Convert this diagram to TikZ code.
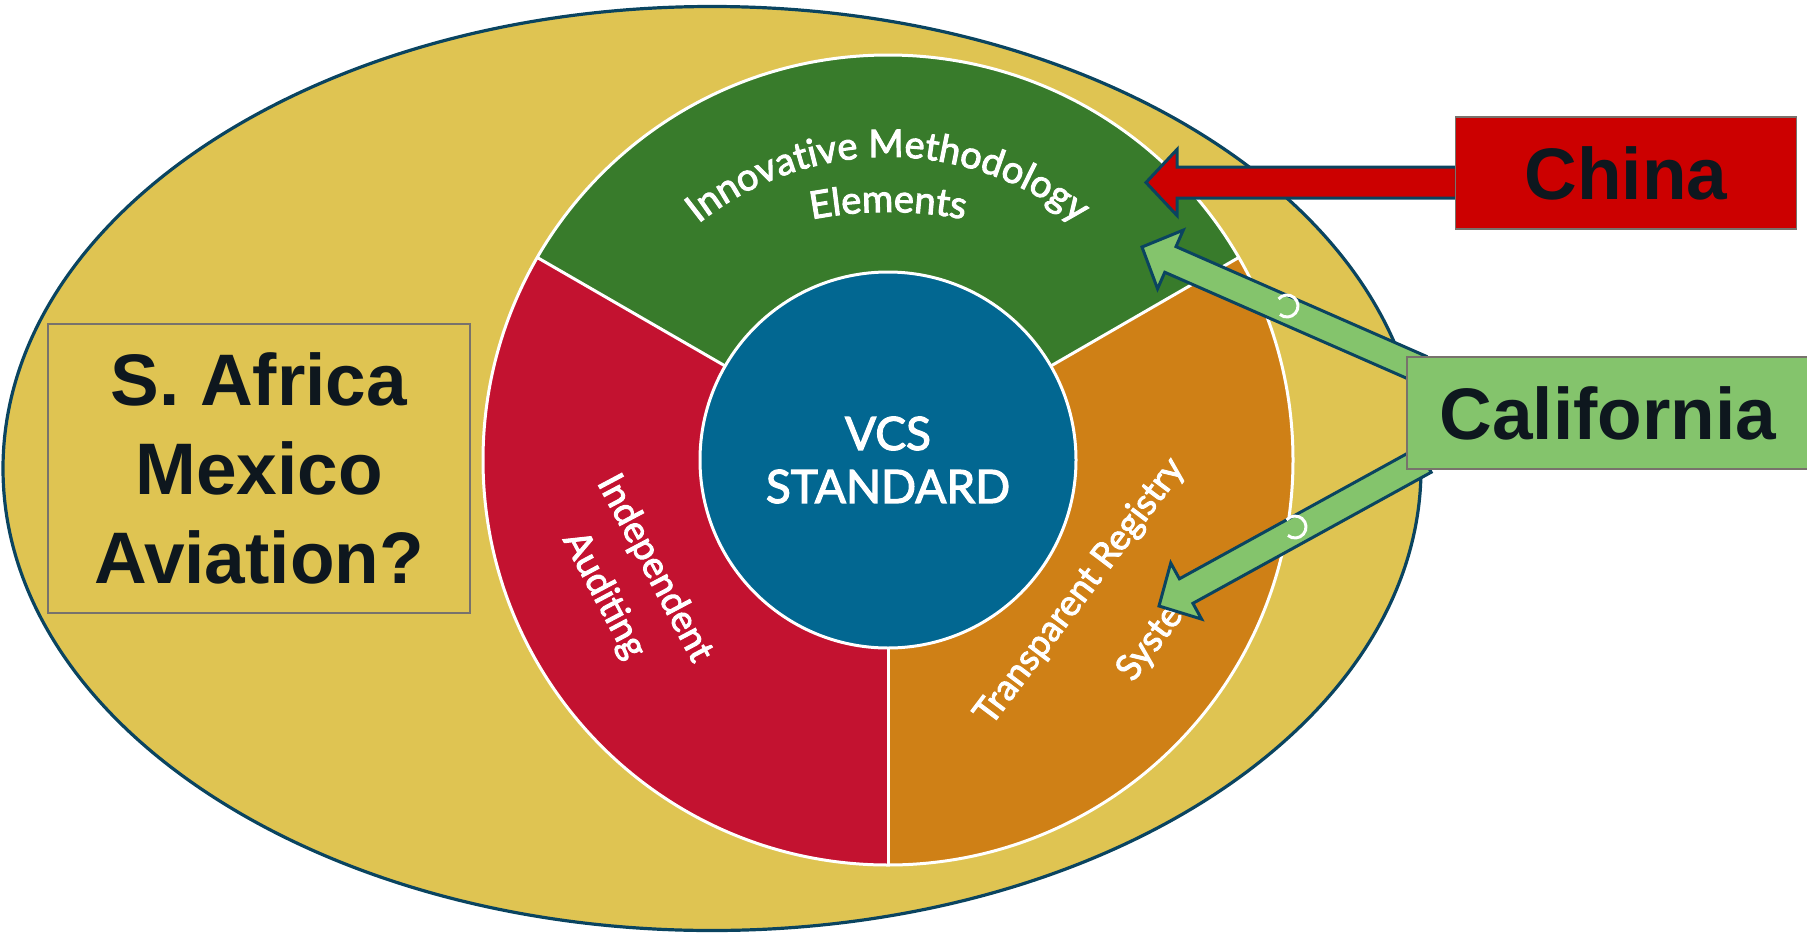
\documentclass[tikz,border=0pt]{standalone}
\usepackage{fontspec}
\setmainfont{Liberation Sans}
\newfontfamily\wheelfont[FakeBold=2.6]{Lato}
\usepackage{tikz}
\usetikzlibrary{calc,positioning,decorations.text}

\definecolor{ringgold}{RGB}{223,196,82}
\definecolor{rimblue}{RGB}{10,68,96}
\definecolor{vcsgreen}{RGB}{56,123,43}
\definecolor{vcsred}{RGB}{195,18,48}
\definecolor{vcsorange}{RGB}{207,128,22}
\definecolor{vcsblue}{RGB}{2,103,145}
\definecolor{chinared}{RGB}{204,0,0}
\definecolor{calgreen}{RGB}{132,196,108}
\definecolor{boxgray}{RGB}{120,114,108}
\definecolor{inkdark}{RGB}{14,23,30}

\pgfdeclarelayer{front}
\pgfsetlayers{main,front}

\tikzset{
  labelbox/.style={draw=boxgray, line width=1.2pt, text=inkdark, inner sep=0pt,
    font=\fontsize{73}{89}\selectfont\bfseries, align=center},
  blockline/.style={draw=rimblue, line width=3pt, line join=miter},
  wheeltext/.style={text=white, font=\fontsize{37}{57}\selectfont\wheelfont, align=center},
  whitecut/.style={white, line width=3pt}
}

\newcommand{\blockarrow}[5]{%
  \coordinate (neck) at ($(#2)!31pt!(#1)$);
  \draw[blockline, fill=#3] ($(#1)!#4!90:(#2)$) -- ($(neck)!#4!90:(#2)$)
    -- ($(neck)!#5!90:(#2)$) -- (#2) -- ($(neck)!#5!-90:(#2)$)
    -- ($(neck)!#4!-90:(#2)$) -- ($(#1)!#4!-90:(#2)$) -- cycle;
}

\begin{document}
\begin{tikzpicture}[x=1pt,y=1pt]
    \useasboundingbox (0,0) rectangle (1807,-937);
    \draw[draw=rimblue, line width=3.2pt, fill=ringgold] (712,-468.5) ellipse [x radius=709pt, y radius=462pt];
    \node[labelbox, minimum width=422pt, minimum height=289pt] (others) at (259,-468.5) {S. Africa\\Mexico\\Aviation?};

    \coordinate (c) at (888,-460);
    \fill[vcsgreen] (c) -- ++(30:405pt) arc[start angle=30, end angle=150, radius=405pt] -- cycle;
    \fill[vcsred] (c) -- ++(150:405pt) arc[start angle=150, end angle=270, radius=405pt] -- cycle;
    \fill[vcsorange] (c) -- ++(270:405pt) arc[start angle=270, end angle=390, radius=405pt] -- cycle;
    \draw[whitecut] (c) circle[radius=405pt];
    \foreach \a in {30,150,270}
        \draw[whitecut] (c) -- ++(\a:405pt);
    \node[circle, fill=vcsblue, draw=white, line width=3pt, minimum size=376pt, inner sep=0pt,
        text=white, font=\fontsize{46}{53}\selectfont\wheelfont, align=center] (vcs) at (c) {VCS\\STANDARD};

    \path[decorate, decoration={text along path, text align=center, text color=white,
        text={|\wheelfont\fontsize{38}{44}\selectfont|Innovative Methodology}}]
        ($(c)+(140:303pt)$) arc[start angle=140, end angle=40, radius=303pt];
    \path[decorate, decoration={text along path, text align=center, text color=white,
        text={|\wheelfont\fontsize{38}{44}\selectfont|Elements}}]
        ($(888,-612)+(120:400pt)$) arc[start angle=120, end angle=60, radius=400pt];
    \node[wheeltext, rotate=-62] (audit) at (629,-582) {Independent\\Auditing};
    \node[wheeltext, font=\fontsize{36}{57}\selectfont\wheelfont, rotate=53] (registry) at (1115,-618)
        {Transparent Registry\\[30pt]\hspace*{32pt}System};

    \begin{pgfonlayer}{front}
        \node[labelbox, fill=chinared, minimum width=341pt, minimum height=112pt] (china) at (1626,-173) {China};
        \node[labelbox, fill=calgreen, minimum width=402pt, minimum height=112pt] (calif) at (1608,-413) {California};
    \end{pgfonlayer}

    \coordinate (chinatip) at (1146,-182.5);
    \coordinate (chinatail) at ($(china.west)+(1.5,-9.5)$);
    \coordinate (caltipA) at (1142,-247);
    \coordinate (caltailA) at ($(calif.west)+(14,44)$);
    \coordinate (caltipB) at (1159,-606);
    \coordinate (caltailB) at ($(calif.west)+(18,-47)$);
    \blockarrow{chinatail}{chinatip}{chinared}{15.5pt}{33pt}
    \blockarrow{caltailA}{caltipA}{calgreen}{14pt}{32pt}
    \blockarrow{caltailB}{caltipB}{calgreen}{14pt}{32pt}

    \draw[white, line width=3pt] ($(1287,-306)+(140:11pt)$) arc[start angle=140, end angle=-130, radius=11pt];
    \draw[white, line width=3pt] ($(1295,-527)+(140:11pt)$) arc[start angle=140, end angle=-130, radius=11pt];
\end{tikzpicture}
\end{document}
